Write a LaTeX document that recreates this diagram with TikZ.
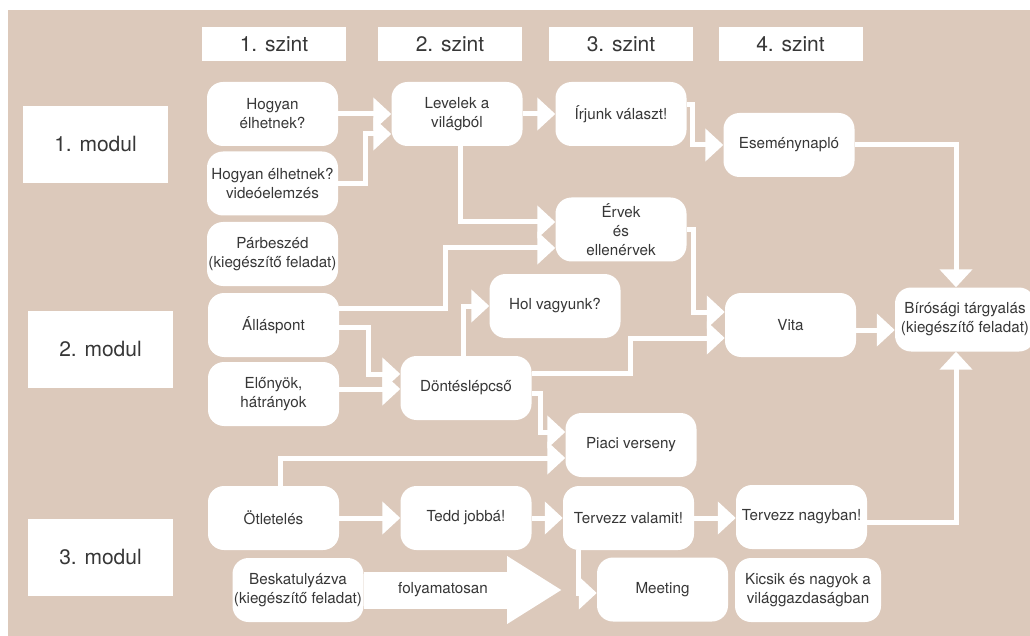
\documentclass[tikz,border=0pt]{standalone}
\usepackage{fontspec}
\setmainfont{TeX Gyre Heros}
\usepackage{tikz}
\usetikzlibrary{arrows.meta}
\usepackage{xcolor}
\definecolor{bezs}{RGB}{220,201,187}
\definecolor{szurke}{RGB}{55,55,55}

\begin{document}
\begin{tikzpicture}[x=1pt,y=-1pt,
  fejlec/.style={fill=white,minimum width=144pt,minimum height=34pt,inner sep=0pt,text=szurke,font=\fontsize{21}{25}\selectfont},
  modul/.style={fill=white,minimum width=145pt,minimum height=77pt,inner sep=0pt,text=szurke,font=\fontsize{21}{25}\selectfont},
  kartya/.style={fill=white,rounded corners=16pt,minimum width=131pt,minimum height=64pt,inner sep=0pt,align=center,text=szurke,font=\fontsize{15.2}{19}\selectfont},
  nyil/.style={draw=white,line width=5pt,-{Triangle[length=18pt,width=32pt]}},
  vastag/.style={draw=white,line width=37pt,-{Triangle[length=55pt,width=64pt]}}]
\useasboundingbox (0,0) rectangle (1030,636);
\fill[bezs] (8,10) rectangle (1030,636);
% Szintek
\node[fejlec] (sz1) at (274,44) {1. szint};
\node[fejlec] (sz2) at (450,44) {2. szint};
\node[fejlec] (sz3) at (621,44) {3. szint};
\node[fejlec] (sz4) at (790.5,44) {4. szint};
% Modulok
\node[modul] (m1) at (95.5,144.5) {1. modul};
\node[modul] (m2) at (100.5,349) {2. modul};
\node[modul] (m3) at (100.5,557) {3. modul};
% Feladatok
\node[kartya] (hogy) at (272.5,114) {Hogyan\\élhetnek?};
\node[kartya] (video) at (272.5,183.5) {Hogyan élhetnek?\\videóelemzés};
\node[kartya] (parb) at (272.5,254) {Párbeszéd\\(kiegészítő feladat)};
\node[kartya] (allas) at (273.5,325) {Álláspont};
\node[kartya] (elony) at (273.5,394) {Előnyök,\\hátrányok};
\node[kartya] (otlet) at (273.5,518) {Ötletelés};
\node[kartya] (besk) at (298,590) {Beskatulyázva\\(kiegészítő feladat)};
\node[kartya] (lev) at (457,114) {Levelek a\\világból};
\node[kartya] (dont) at (466,388) {Döntéslépcső};
\node[kartya] (tedd) at (466,518) {Tedd jobbá!};
\node[kartya] (hol) at (555,306) {Hol vagyunk?};
\node[kartya] (irj) at (621,114) {Írjunk választ!};
\node[kartya] (erv) at (621,229.5) {Érvek\\és\\ellenérvek};
\node[kartya] (piac) at (631,445) {Piaci verseny};
\node[kartya] (terv) at (628.5,518) {Tervezz valamit!};
\node[kartya] (meet) at (662.5,589.5) {Meeting};
\node[kartya] (esem) at (789,145) {Eseménynapló};
\node[kartya] (vita) at (790.5,325) {Vita};
\node[kartya] (nagy) at (801.5,517) {Tervezz nagyban!};
\node[kartya,minimum width=146pt] (kics) at (808,590) {Kicsik és nagyok a\\világgazdaságban};
\node[kartya,minimum width=140pt] (biro) at (965,319.5) {Bírósági tárgyalás\\(kiegészítő feladat)};
% Nyilak
\draw[nyil] (hogy) -- (lev);
\draw[nyil] (video.east) -| (365,134) -- (lev.west |- 0,134);
\draw[nyil] (lev) -- (irj);
\draw[nyil] (irj.east |- 0,105) -| (692,145) -- (esem.west);
\draw[nyil] (lev.south -| 460,0) |- (erv.west |- 0,222);
\draw[nyil] (allas.east |- 0,308) -| (445,248) -- (erv.west |- 0,248);
\draw[nyil] (allas.east |- 0,327) -| (368,374) -- (dont.west |- 0,374);
\draw[nyil] (elony.east |- 0,389) -- (dont.west |- 0,389);
\draw[nyil] (dont.north -| 463,0) |- (hol.west);
\draw[nyil] (dont.east |- 0,373) -| (630,338) -- (vita.west |- 0,338);
\draw[nyil] (erv.east |- 0,230) -| (693,312) -- (vita.west |- 0,312);
\draw[nyil] (dont.east |- 0,393) -| (540,432) -- (piac.west |- 0,432);
\draw[nyil] (otlet.north -| 280,0) |- (piac.west |- 0,458);
\draw[nyil] (otlet) -- (tedd);
\draw[nyil] (tedd) -- (terv);
\draw[nyil] (terv.east) -- (nagy.west |- terv.east);
\draw[nyil] (terv.south -| 578,0) |- (meet.west |- 0,593);
\draw[nyil] (esem.east) -| (biro.north -| 956,0);
\draw[nyil] (vita.east |- 0,330) -- (biro.west |- 0,330);
\draw[nyil] (nagy.east |- 0,522) -| (biro.south -| 956,0);
% folyamatosan
\coordinate (folyveg) at (562,590);
\draw[vastag] (besk.east) -- (folyveg) node[pos=0.4,text=szurke,font=\fontsize{15.2}{19}\selectfont] {folyamatosan};
\end{tikzpicture}
\end{document}
